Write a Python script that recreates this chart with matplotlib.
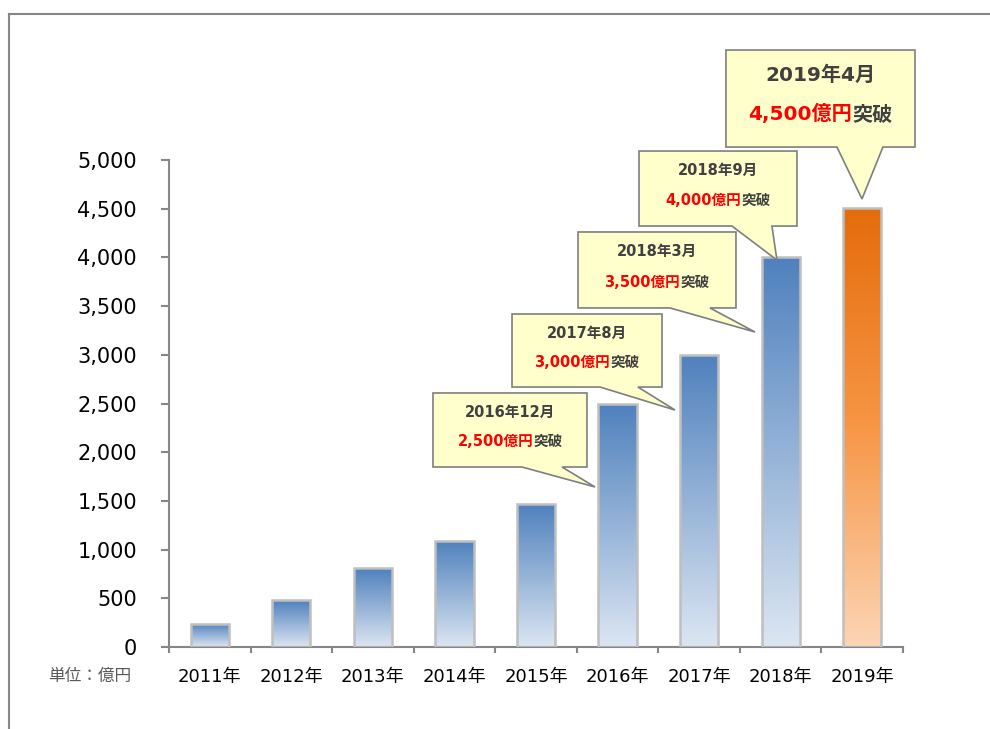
import matplotlib
matplotlib.use('Agg')
import matplotlib.pyplot as plt
import numpy as np
from matplotlib.colors import LinearSegmentedColormap
from matplotlib.patches import Polygon
from matplotlib.lines import Line2D
from matplotlib.transforms import ScaledTranslation

# フォント設定 (数字は DejaVu, 漢字は Noto Sans CJK JP)
FONT = ['DejaVu Sans', 'Noto Sans CJK JP']
plt.rcParams['font.family'] = FONT

# --- データ ---
years = ['2011年', '2012年', '2013年', '2014年', '2015年',
         '2016年', '2017年', '2018年', '2019年']
values = [240, 480, 810, 1090, 1470, 2500, 3000, 4000, 4510]
highlight = [False] * 8 + [True]   # 最後の年だけオレンジ

# 吹き出しの文言
call_dates = ['2016年12月', '2017年8月', '2018年3月', '2018年9月', '2019年4月']
call_amounts = ['2,500億円', '3,000億円', '3,500億円', '4,000億円', '4,500億円']
call_suffix = '突破'

# 吹き出しの配置 (データ座標): 左, 右, 上, 下, 尾の付け根左, 右, 先端x, 先端y
call_layout = [
    (2.737, 4.625, 2608, 1848, 3.828, 4.319, 4.723, 1643),
    (3.706, 5.545, 3419, 2669, 4.785, 5.250, 5.704, 2433),
    (4.515, 6.452, 4261, 3481, 5.643, 6.133, 6.685, 3234),
    (5.263, 7.200, 5092, 4322, 6.403, 6.893, 6.954, 3973),
    (6.329, 8.647, 6129, 5133, 7.690, 8.254, 7.997, 4600),
]
call_size = [10.5, 10.5, 10.5, 10.5, 14.5]

GRID = '#868686'
TXT = '#404040'

fig = plt.figure(figsize=(9.9, 7.29), dpi=100)
ax = fig.add_axes([169 / 990, 1 - 647 / 729, (903 - 169) / 990, (647 - 160) / 729])

# 外枠 (上と左のみ見える)
fig.add_artist(Line2D([0.009, 1.0], [0.981, 0.981], color=GRID, lw=1.5, transform=fig.transFigure))
fig.add_artist(Line2D([0.009, 0.009], [0.0, 0.981], color=GRID, lw=1.5, transform=fig.transFigure))

blue = LinearSegmentedColormap.from_list('b', ['#DCE6F2', '#95B3D7', '#4F81BD'])
orange = LinearSegmentedColormap.from_list('o', ['#FCD5B5', '#F79646', '#E46C0A'])

x = np.arange(len(years))
bars = ax.bar(x, values, width=0.47, facecolor='none', edgecolor='#BFBFBF', linewidth=1.8, zorder=3)
grad = np.linspace(0, 1, 256).reshape(-1, 1)
for b, hl in zip(bars, highlight):
    x0, w, h = b.get_x(), b.get_width(), b.get_height()
    im = ax.imshow(grad, cmap=orange if hl else blue, origin='lower', aspect='auto',
                   extent=(x0, x0 + w, 0, h), zorder=2)
    im.set_clip_path(b)

ax.set_xlim(-0.5, len(years) - 0.5)
ax.set_ylim(0, 5000)

for s in ['top', 'right']:
    ax.spines[s].set_visible(False)
for s in ['left', 'bottom']:
    ax.spines[s].set_color(GRID)
    ax.spines[s].set_linewidth(1.5)

ax.set_yticks(np.arange(0, 5001, 500))
ax.set_yticklabels([f'{v:,}' for v in range(0, 5001, 500)])
ax.tick_params(axis='y', direction='out', length=6, width=1.5, color=GRID, pad=17, labelsize=15)

ax.set_xticks(x)
ax.set_xticklabels(years)
ax.set_xticks(np.arange(-0.5, len(years)), minor=True)
ax.tick_params(axis='x', which='major', length=0, pad=15, labelsize=13)
ax.tick_params(axis='x', which='minor', direction='out', length=4.5, width=1.5, color=GRID)

fig.text(131 / 990, 1 - 676 / 729, '単位：億円', ha='right', va='center',
         fontsize=12, color='#595959', family=['Noto Sans CJK JP'])

renderer = fig.canvas.get_renderer()


def two_color_line(cx, cy, parts, size):
    texts = [ax.text(cx, cy, s, color=c, fontsize=size, fontweight='bold',
                     ha='left', va='center', zorder=6) for s, c in parts]
    widths = [t.get_window_extent(renderer).width for t in texts]
    off = -sum(widths) / 2
    for t, w in zip(texts, widths):
        t.set_transform(ax.transData + ScaledTranslation(off / fig.dpi, 0, fig.dpi_scale_trans))
        off += w


for d, amt, lay, sz in zip(call_dates, call_amounts, call_layout, call_size):
    L, R, T, B, t1, t2, tx, ty = lay
    poly = Polygon([(L, T), (R, T), (R, B), (t2, B), (tx, ty), (t1, B), (L, B)],
                   closed=True, facecolor='#FFFFCC', edgecolor='#7F7F7F',
                   linewidth=1.2, clip_on=False, zorder=5)
    ax.add_patch(poly)
    cx = (L + R) / 2
    hgt = T - B
    ax.text(cx, T - hgt * 0.26, d, color=TXT, fontsize=sz, fontweight='bold',
            ha='center', va='center', zorder=6)
    two_color_line(cx, T - hgt * 0.66, [(amt, '#FF0000'), (call_suffix, TXT)], sz)

fig.savefig('out.png', dpi=100)
